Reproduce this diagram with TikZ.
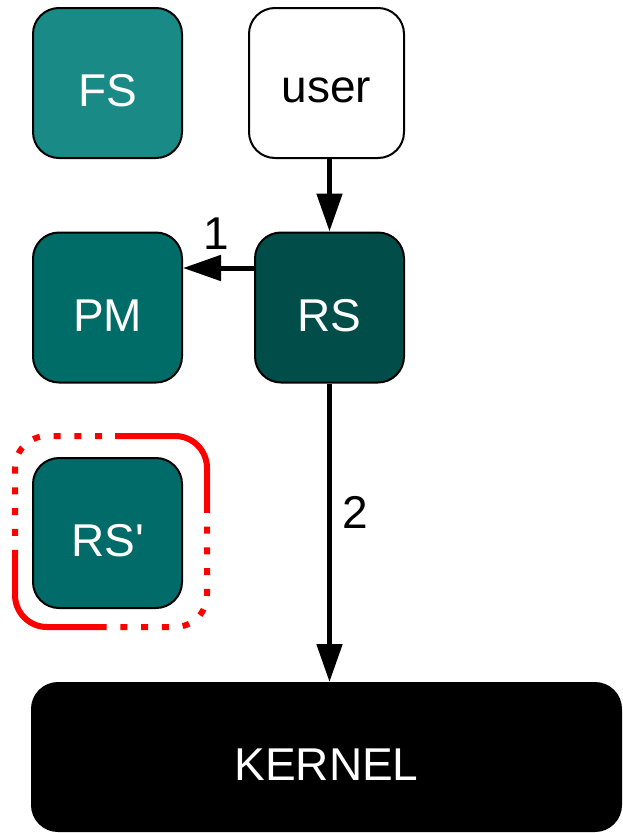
\documentclass[tikz,border=0pt]{standalone}
\usepackage{fontspec}
\setmainfont[Ligatures=TeXOff]{Liberation Sans}
\usetikzlibrary{arrows.meta}
\definecolor{fsc}{RGB}{26,138,135}
\definecolor{pmc}{RGB}{0,108,104}
\definecolor{rsc}{RGB}{0,77,73}
\definecolor{rspc}{RGB}{0,107,104}
\definecolor{redline}{RGB}{255,0,0}
\tikzset{
  bigtxt/.style={font=\fontsize{46}{50}\selectfont},
  box/.style={draw=black, line width=2pt, rounded corners=26pt, minimum width=149pt, minimum height=150pt, inner sep=0pt, text=white, bigtxt, text height=47pt, text depth=0pt},
  arr/.style={line width=5pt, -{Triangle[length=38pt,width=25pt]}},
  lbl/.style={inner sep=0pt, bigtxt},
  redbox/.style={draw=redline, line width=6pt, rounded corners=32pt,
    dash pattern=on 155pt off 13.8pt on 7pt off 13.8pt on 7pt off 13.8pt on 7pt off 13.8pt on 7pt off 13.8pt on 7pt off 13.8pt on 7pt off 13.8pt on 7pt off 13.8pt on 7pt off 13.8pt on 7pt off 13.8pt}
}
\begin{document}
\begin{tikzpicture}[x=1pt,y=-1pt]
\useasboundingbox (0,0) rectangle (623,833);
\node[box, fill=fsc] (fs) at (107.5,83) {FS};
\node[box, fill=white, text=black, minimum width=155pt, text height=38pt] (user) at (326.5,83) {user};
\node[box, fill=pmc] (pm) at (107.5,307.5) {PM};
\node[box, fill=rsc] (rs) at (329.5,307.5) {RS};
\node[box, fill=rspc] (rsp) at (107.5,533) {RS'};
\node[box, fill=black, minimum width=589pt, minimum height=148pt] (kern) at (326.5,757) {KERNEL};
\draw[redbox] (83,436) -- (207,436) -- (207,627) -- (15,627) -- (15,436) -- cycle;
\draw[arr] (user.south -| rs.north) -- (rs.north);
\draw[arr] ([yshift=39.5pt]rs.west) -- ([yshift=39.5pt]pm.east);
\draw[arr] (rs.south) -- (rs.south |- kern.north);
\node[lbl] (l1) at (216,234) {1};
\node[lbl] (l2) at (355,512) {2};
\end{tikzpicture}
\end{document}
